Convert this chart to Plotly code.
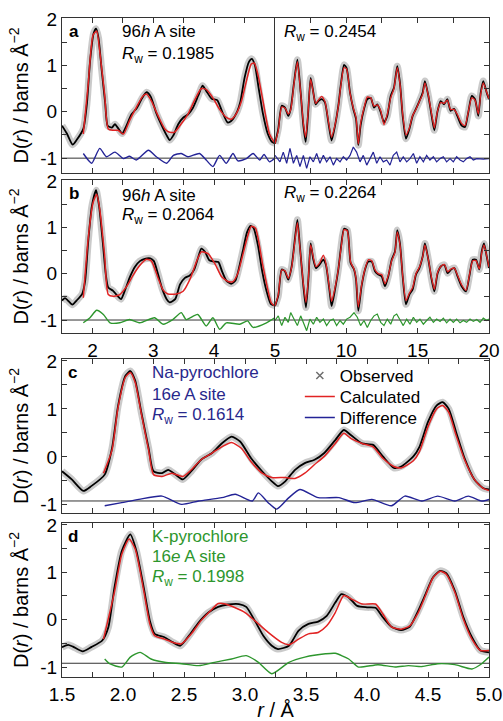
import plotly.graph_objects as go

# ---------------- data ----------------
# Observed D(r), Na sample, 1.5-5 A (panels a-left and c)
r_obs_na = [1.50,1.58,1.675,1.74,1.85,1.91,1.96,2.02,2.06,2.10,2.15,2.21,2.25,2.32,2.37,2.43,2.49,2.56,2.64,2.73,
            2.81,2.89,2.96,3.05,3.14,3.22,3.27,3.33,3.41,3.49,3.57,3.65,3.74,3.81,3.87,3.96,4.05,4.13,4.22,4.28,
            4.38,4.43,4.50,4.57,4.62,4.67,4.73,4.80,4.88,4.95,5.00]
obs_na = [-0.30,-0.47,-0.71,-0.61,-0.37,0.18,1.07,1.69,1.79,1.59,0.93,0.18,-0.30,-0.34,-0.27,-0.37,-0.47,-0.30,-0.06,0.08,
          0.28,0.42,0.32,-0.03,-0.30,-0.51,-0.61,-0.51,-0.27,-0.13,-0.06,0.08,0.35,0.56,0.45,0.28,0.25,0.01,-0.23,-0.20,
          0.01,0.21,0.73,1.07,1.14,1.00,0.52,-0.03,-0.47,-0.65,-0.68]

# Observed D(r), K sample, 1.5-5 A (panels b-left and d)
r_obs_k = [1.50,1.55,1.59,1.67,1.74,1.83,1.88,1.93,1.99,2.06,2.11,2.17,2.22,2.26,2.34,2.41,2.47,2.54,2.62,2.70,
           2.78,2.86,2.95,3.01,3.08,3.15,3.22,3.27,3.36,3.44,3.52,3.60,3.67,3.74,3.79,3.85,3.92,4.00,4.07,4.13,
           4.20,4.28,4.35,4.42,4.48,4.54,4.60,4.65,4.72,4.79,4.86,4.93,5.00]
obs_k = [-0.58,-0.53,-0.57,-0.67,-0.58,-0.44,-0.16,0.68,1.45,1.80,1.45,0.68,-0.02,-0.30,-0.37,-0.48,-0.55,-0.34,-0.06,0.15,
         0.27,0.32,0.33,0.27,-0.02,-0.34,-0.55,-0.62,-0.55,-0.23,-0.09,-0.04,0.08,0.36,0.54,0.47,0.29,0.26,0.25,0.05,
         -0.15,-0.22,-0.15,0.19,0.54,0.89,1.03,0.98,0.61,0.05,-0.37,-0.65,-0.69]

# Panel a, 96h model (Na), 1.5-5 A
r_calc_na96 = [1.85,1.93,2.01,2.07,2.12,2.20,2.26,2.34,2.42,2.51,2.61,2.72,2.83,2.89,2.97,3.08,3.19,3.27,3.35,3.46,
               3.57,3.68,3.79,3.87,3.98,4.09,4.20,4.28,4.36,4.45,4.53,4.61,4.66,4.72,4.80,4.91,5.00]
calc_na96 = [-0.48,0.59,1.65,1.74,1.30,0.38,-0.37,-0.40,-0.40,-0.48,-0.19,0.09,0.34,0.38,0.23,-0.09,-0.37,-0.44,-0.44,-0.26,
             -0.05,0.25,0.50,0.48,0.30,0.05,-0.12,-0.16,-0.05,0.23,0.66,1.03,1.05,0.80,0.25,-0.48,-0.68]
r_diff_na96 = [1.85,1.93,1.99,2.12,2.23,2.37,2.51,2.61,2.72,2.92,3.05,3.22,3.33,3.46,3.57,3.76,3.87,3.98,4.09,4.20,
               4.31,4.39,4.53,4.64,4.75,4.82,4.91,5.00]
diff_na96 = [-0.90,-1.04,-1.11,-0.79,-0.97,-0.87,-1.01,-0.96,-1.04,-0.83,-0.97,-1.11,-0.94,-0.90,-0.97,-0.90,-1.04,-1.18,-0.94,-1.11,
             -0.90,-1.06,-1.01,-0.90,-1.04,-0.92,-1.08,-1.00]

# Panel a, 5-20 A
r_long_na = [5.00,5.23,5.47,5.70,5.93,6.10,6.33,6.57,6.80,6.99,7.15,7.31,7.50,7.69,7.85,8.04,8.27,8.50,8.74,8.97,
             9.21,9.44,9.63,9.84,10.02,10.26,10.49,10.68,10.84,11.00,11.24,11.47,11.71,11.94,12.17,12.41,12.64,12.87,13.11,13.34,
             13.57,13.76,13.95,14.18,14.42,14.65,14.88,15.12,15.35,15.51,15.75,15.98,16.17,16.38,16.61,16.85,17.08,17.31,17.55,17.78,
             18.08,18.32,18.55,18.79,19.02,19.25,19.42,19.60,19.84,20.00]
obs_na_long = [-0.69,-0.37,0.13,0.09,-0.09,0.06,0.62,1.12,0.41,-0.30,
               -0.65,-0.09,0.73,0.41,0.16,0.23,0.27,0.20,-0.23,-0.62,
               -0.30,0.13,0.62,1.01,0.94,0.41,0.06,-0.16,-0.72,-0.30,
               0.06,0.27,0.30,0.09,0.16,-0.01,-0.23,-0.09,0.34,0.52,
               0.98,0.62,-0.09,-0.58,-0.37,-0.09,0.06,0.23,0.41,0.66,
               0.34,-0.09,-0.40,-0.01,0.23,0.16,0.27,0.02,0.06,-0.09,
               -0.30,-0.33,-0.01,0.34,0.27,-0.09,0.41,0.66,0.41,0.27]
calc_na96_long = [-0.69,-0.40,0.10,0.08,-0.05,0.04,0.60,1.08,0.40,-0.25,
                  -0.55,-0.05,0.70,0.40,0.18,0.25,0.33,0.22,-0.20,-0.55,
                  -0.28,0.12,0.60,0.95,0.92,0.40,0.08,-0.12,-0.70,-0.25,
                  0.08,0.32,0.30,0.12,0.15,0.02,-0.28,-0.05,0.30,0.50,
                  0.95,0.60,-0.05,-0.50,-0.35,-0.08,0.05,0.22,0.38,0.62,
                  0.35,-0.05,-0.35,0.00,0.20,0.18,0.25,0.05,0.05,-0.06,
                  -0.25,-0.30,0.00,0.30,0.25,-0.05,0.38,0.62,0.42,0.28]
r_diff_na96_long = [5.00,5.35,5.58,5.82,6.05,6.29,6.52,6.75,6.99,7.22,7.45,7.69,7.92,8.15,8.39,8.62,8.86,9.09,9.32,9.56,
                    9.79,10.02,10.26,10.49,10.72,10.96,11.19,11.43,11.66,11.89,12.13,12.36,12.59,12.83,13.06,13.29,13.53,13.76,13.99,14.23,
                    14.46,14.70,14.93,15.16,15.40,15.63,15.86,16.10,16.33,16.57,16.80,17.03,17.27,17.50,17.73,17.97,18.20,18.43,18.67,18.90,
                    19.14,19.60,20.00]
diff_na96_long = [-0.94,-1.08,-0.87,-1.11,-0.79,-1.11,-0.94,-1.18,-0.94,-1.22,
                  -0.97,-1.08,-0.90,-1.11,-0.94,-1.08,-0.97,-1.15,-1.01,-1.08,
                  -0.97,-1.04,-0.94,-0.76,-0.87,-1.08,-0.94,-1.15,-1.01,-0.87,
                  -1.11,-0.97,-1.08,-1.04,-1.15,-0.94,-0.87,-1.08,-0.97,-1.08,
                  -1.01,-0.90,-1.11,-0.97,-1.08,-0.94,-1.04,-0.97,-1.08,-1.01,
                  -0.97,-1.08,-1.01,-1.08,-0.97,-1.04,-1.08,-1.01,-0.97,-1.04,
                  -1.01,-1.02,-1.01]

# Panel b, 96h model (K), 1.5-5 A
r_calc_k96 = [1.85,1.93,2.01,2.07,2.12,2.20,2.26,2.34,2.45,2.56,2.67,2.78,2.89,2.97,3.08,3.16,3.24,3.38,3.49,3.60,
              3.71,3.79,3.90,4.01,4.12,4.23,4.31,4.39,4.47,4.55,4.61,4.68,4.80,4.94,5.00]
calc_k96 = [-0.52,0.75,1.53,1.71,1.39,0.40,-0.45,-0.49,-0.45,-0.28,-0.03,0.18,0.31,0.27,-0.10,-0.35,-0.44,-0.44,-0.38,-0.13,
            0.26,0.47,0.43,0.22,-0.06,-0.17,-0.17,0.01,0.40,0.80,1.02,0.98,0.18,-0.63,-0.70]
r_diff_k96 = [1.85,1.96,2.07,2.18,2.29,2.45,2.61,2.78,3.02,3.16,3.32,3.46,3.54,3.73,3.87,3.98,4.09,4.20,4.42,4.55,
              4.64,4.86,5.00]
diff_k96 = [-1.06,-0.95,-0.79,-0.88,-1.06,-1.06,-0.99,-1.06,-0.95,-1.09,-0.99,-0.84,-0.99,-0.88,-1.13,-0.95,-1.20,-1.06,-1.09,-1.02,
            -1.16,-1.06,-0.95]

# Panel b, 5-20 A
r_long_k = [5.00,5.23,5.47,5.70,5.93,6.17,6.40,6.57,6.75,6.99,7.17,7.34,7.50,7.69,7.87,8.11,8.39,8.57,8.81,8.97,
            9.21,9.44,9.63,9.84,10.07,10.30,10.54,10.68,10.84,11.07,11.31,11.54,11.78,12.01,12.24,12.48,12.71,12.94,13.18,13.41,
            13.57,13.76,13.95,14.18,14.42,14.65,14.88,15.12,15.35,15.51,15.75,15.98,16.17,16.40,16.64,16.87,17.10,17.34,17.57,17.80,
            18.08,18.39,18.62,18.86,19.09,19.32,19.49,19.65,19.84,20.00]
obs_k_long = [-0.70,-0.48,0.09,0.05,-0.13,0.16,0.76,1.16,0.58,-0.27,
              -0.73,-0.13,0.65,0.30,0.12,0.19,0.30,0.19,-0.34,-0.70,
              -0.34,0.09,0.58,0.97,0.94,0.23,0.09,-0.13,-0.80,-0.27,
              0.09,0.26,0.26,0.05,-0.02,-0.06,-0.27,-0.06,0.30,0.48,
              0.94,0.65,-0.06,-0.66,-0.45,-0.34,-0.02,0.12,0.37,0.65,
              0.30,-0.13,-0.38,0.01,0.16,0.19,0.01,0.09,0.12,-0.06,
              -0.27,-0.38,-0.06,0.30,0.30,0.09,0.48,0.65,0.37,0.12]
calc_k96_long = [-0.70,-0.45,0.08,0.06,-0.10,0.14,0.72,1.10,0.55,-0.22,
                 -0.62,-0.10,0.62,0.35,0.15,0.22,0.40,0.22,-0.30,-0.60,
                 -0.30,0.10,0.55,0.95,0.92,0.25,0.10,-0.10,-0.72,-0.25,
                 0.10,0.30,0.28,0.08,0.00,-0.02,-0.22,-0.04,0.28,0.46,
                 0.90,0.62,-0.04,-0.58,-0.42,-0.30,0.00,0.14,0.36,0.62,
                 0.30,-0.10,-0.34,0.03,0.16,0.20,0.04,0.10,0.12,-0.04,
                 -0.24,-0.36,-0.04,0.28,0.28,0.10,0.45,0.62,0.38,0.14]
r_diff_k96_long = [5.00,5.23,5.47,5.70,5.93,6.10,6.33,6.57,6.80,6.99,7.22,7.45,7.69,7.92,8.15,8.39,8.62,8.86,9.09,9.32,
                   9.56,9.79,10.02,10.26,10.54,10.77,11.00,11.24,11.47,11.71,11.94,12.17,12.41,12.64,12.87,13.11,13.34,13.53,13.76,13.99,
                   14.23,14.46,14.70,14.93,15.16,15.40,15.63,15.86,16.10,16.33,16.57,16.80,17.03,17.27,17.50,17.73,17.97,18.20,18.43,18.67,
                   18.90,19.14,19.37,19.60,19.84,20.00]
diff_k96_long = [-1.01,-0.91,-1.12,-0.94,-1.05,-0.84,-0.98,-1.12,-0.91,-1.05,
                 -1.23,-0.98,-1.09,-0.94,-1.05,-0.98,-1.12,-1.01,-0.98,-1.12,
                 -1.01,-1.09,-0.98,-0.94,-0.84,-0.94,-1.12,-1.01,-1.16,-1.01,
                 -0.91,-0.87,-1.05,-1.12,-0.98,-1.09,-0.91,-0.87,-1.01,-1.12,
                 -0.98,-1.09,-0.94,-1.05,-0.98,-1.09,-1.01,-0.94,-1.05,-0.98,
                 -1.03,-0.96,-1.06,-0.98,-1.05,-0.98,-1.06,-1.01,-1.05,-0.98,
                 -1.03,-0.99,-1.05,-0.96,-1.01,-0.98]

# Panel c, 16e model (Na)
r_calc_na16 = [1.84,1.91,1.96,2.02,2.06,2.10,2.15,2.21,2.25,2.32,2.40,2.49,2.56,2.64,2.73,2.81,2.89,2.97,3.05,3.14,
               3.22,3.33,3.41,3.49,3.57,3.65,3.74,3.81,3.87,3.96,4.05,4.13,4.22,4.28,4.38,4.43,4.50,4.57,4.62,4.67,
               4.73,4.80,4.88,4.95,5.00]
calc_na16 = [-0.34,0.14,1.04,1.66,1.76,1.55,0.90,0.14,-0.37,-0.41,-0.34,-0.41,-0.27,-0.06,0.08,0.21,0.30,0.18,-0.10,-0.34,
             -0.43,-0.43,-0.45,-0.34,-0.16,0.01,0.28,0.49,0.38,0.28,0.21,-0.03,-0.20,-0.23,-0.08,0.11,0.63,1.00,1.07,0.93,
             0.45,-0.06,-0.47,-0.65,-0.70]
r_diff_na16 = [1.85,1.99,2.13,2.32,2.48,2.62,2.81,2.92,3.06,3.11,3.19,3.26,3.36,3.45,3.60,3.77,3.90,4.04,4.20,4.31,
               4.45,4.58,4.72,4.83,4.94,5.00]
diff_na16 = [-1.02,-0.955,-0.887,-0.818,-0.99,-0.92,-0.85,-0.78,-0.92,-0.75,-0.955,-1.09,-0.85,-0.68,-0.85,-0.85,-0.955,-0.887,-1.02,-0.818,
             -0.92,-0.818,-0.92,-0.818,-0.92,-0.887]

# Panel d, 16e model (K)
r_calc_k16 = [1.84,1.93,1.99,2.05,2.10,2.17,2.22,2.26,2.34,2.41,2.48,2.56,2.64,2.73,2.78,2.84,2.92,3.00,3.08,3.19,
              3.30,3.36,3.44,3.52,3.60,3.67,3.74,3.81,3.87,3.96,4.07,4.13,4.20,4.28,4.35,4.42,4.48,4.54,4.60,4.65,
              4.72,4.79,4.86,4.93,5.00]
calc_k16 = [-0.41,0.58,1.38,1.70,1.49,0.61,-0.09,-0.34,-0.41,-0.48,-0.51,-0.30,-0.02,0.22,0.34,0.33,0.25,0.15,-0.02,-0.27,
            -0.48,-0.53,-0.41,-0.30,-0.27,-0.13,0.15,0.51,0.44,0.33,0.33,0.12,-0.15,-0.20,-0.13,0.15,0.51,0.88,1.02,0.96,
            0.58,0.01,-0.41,-0.65,-0.65]
r_diff_k16 = [1.85,1.89,1.99,2.06,2.14,2.23,2.34,2.48,2.62,2.75,2.89,3.01,3.11,3.22,3.36,3.49,3.66,3.74,3.85,3.93,
              4.09,4.23,4.34,4.45,4.58,4.72,4.86,4.94,5.00]
diff_k16 = [-0.83,-0.93,-1.00,-0.79,-0.69,-0.83,-0.90,-0.93,-0.97,-0.90,-0.83,-0.76,-0.90,-1.14,-0.90,-0.79,-0.72,-0.71,-0.83,-1.00,
            -0.95,-1.00,-0.97,-0.99,-0.93,-0.95,-1.04,-0.93,-0.79]

# baselines of the difference curves
offset_ab = -1.0
offset_cd = -0.92

# axis tick labels
y_tickvals = [-1, -0.5, 0, 0.5, 1, 1.5, 2]
y_ticktext = ['-1', '', '0', '', '1', '', '2']
xl_tickvals = [1.5, 2, 2.5, 3, 3.5, 4, 4.5, 5]
xl_ticktext = ['', '2', '', '3', '', '4', '', '']
xr_tickvals = [5, 7.5, 10, 12.5, 15, 17.5, 20]
xr_ticktext = ['5', '', '10', '', '15', '', '20']
xcd_tickvals = [1.5, 1.75, 2.0, 2.25, 2.5, 2.75, 3.0, 3.25, 3.5, 3.75, 4.0, 4.25, 4.5, 4.75, 5.0]
xcd_ticktext = ['1.5', '', '2.0', '', '2.5', '', '3.0', '', '3.5', '', '4.0', '', '4.5', '', '5.0']

# ---------------- styling ----------------
FONT = 'Liberation Sans, Arial, sans-serif'
HALO = 'rgba(150,150,150,0.5)'
RED = 'rgb(225,35,35)'
BLUE = 'rgb(35,35,150)'
GREEN = 'rgb(45,150,45)'
NAVY = 'rgb(40,40,140)'
AX = '#333333'
YTITLE = 'D(<i>r</i>) / barns Å<sup>−2</sup>'

fig = go.Figure()


def add_obs(x, y, xa, ya):
    fig.add_trace(go.Scatter(x=x, y=y, xaxis=xa, yaxis=ya, mode='lines',
                             line=dict(color=HALO, width=7, shape='spline', smoothing=0.6),
                             showlegend=False, hoverinfo='skip'))
    fig.add_trace(go.Scatter(x=x, y=y, xaxis=xa, yaxis=ya, mode='lines',
                             line=dict(color='black', width=1.8, shape='spline', smoothing=0.6),
                             showlegend=False))


def add_line(x, y, xa, ya, color, width=1.5, shape='spline', name=None, legend=None):
    fig.add_trace(go.Scatter(x=x, y=y, xaxis=xa, yaxis=ya, mode='lines', name=name,
                             line=dict(color=color, width=width, shape=shape, smoothing=0.6),
                             showlegend=legend is not None, legend=legend or 'legend'))


# legend-only observed marker
fig.add_trace(go.Scatter(x=[None], y=[None], xaxis='x5', yaxis='y5', mode='markers', name='Observed',
                         marker=dict(symbol='x-thin', size=7, line=dict(color='rgb(110,110,110)', width=1.5)),
                         showlegend=True, legend='legend'))

# panel a
add_obs(r_obs_na, obs_na, 'x', 'y')
add_line(r_calc_na96, calc_na96, 'x', 'y', RED)
add_line(r_diff_na96, diff_na96, 'x', 'y', BLUE, 1.4)
add_obs(r_long_na, obs_na_long, 'x2', 'y2')
add_line(r_long_na, calc_na96_long, 'x2', 'y2', RED, 1.3)
add_line(r_diff_na96_long, diff_na96_long, 'x2', 'y2', BLUE, 1.2, 'linear')
# panel b
add_obs(r_obs_k, obs_k, 'x3', 'y3')
add_line(r_calc_k96, calc_k96, 'x3', 'y3', RED)
add_line(r_diff_k96, diff_k96, 'x3', 'y3', GREEN, 1.4)
add_obs(r_long_k, obs_k_long, 'x4', 'y4')
add_line(r_long_k, calc_k96_long, 'x4', 'y4', RED, 1.3)
add_line(r_diff_k96_long, diff_k96_long, 'x4', 'y4', GREEN, 1.2, 'linear')
# panel c
add_obs(r_obs_na, obs_na, 'x5', 'y5')
add_line(r_calc_na16, calc_na16, 'x5', 'y5', RED, 1.5, name='Calculated', legend='legend2')
add_line(r_diff_na16, diff_na16, 'x5', 'y5', BLUE, 1.4, name='Difference', legend='legend3')
# panel d
add_obs(r_obs_k, obs_k, 'x6', 'y6')
add_line(r_calc_k16, calc_k16, 'x6', 'y6', RED)
add_line(r_diff_k16, diff_k16, 'x6', 'y6', GREEN, 1.4)

# baselines
for xr, yr, off in [('x', 'y', offset_ab), ('x2', 'y2', offset_ab), ('x3', 'y3', offset_ab),
                    ('x4', 'y4', offset_ab), ('x5', 'y5', offset_cd), ('x6', 'y6', offset_cd)]:
    fig.add_shape(type='line', xref=xr + ' domain', x0=0, x1=1, yref=yr, y0=off, y1=off,
                  line=dict(color=AX, width=1), layer='below')

tickfont = dict(family=FONT, size=19, color='black')


def xax(domain, rng, tv, tt, anchor, labels):
    return dict(domain=domain, range=rng, anchor=anchor, showline=True, linecolor=AX, linewidth=1,
                mirror='ticks', ticks='inside', ticklen=5, tickwidth=1, tickcolor=AX,
                tickmode='array', tickvals=tv, ticktext=tt, showticklabels=labels,
                showgrid=False, zeroline=False, tickfont=tickfont, automargin=False)


def yax(domain, rng, anchor, labels, side='left', mirror='ticks', title=None):
    d = dict(domain=domain, range=rng, anchor=anchor, side=side, showline=True, linecolor=AX, linewidth=1,
             mirror=mirror, ticks='inside', ticklen=5, tickwidth=1, tickcolor=AX,
             tickmode='array', tickvals=y_tickvals, ticktext=y_ticktext, showticklabels=labels,
             showgrid=False, zeroline=False, tickfont=tickfont, automargin=False)
    if title:
        d['title'] = dict(text=title, font=dict(family=FONT, size=20, color='black'), standoff=6)
    return d


SPLIT = 0.4988
dom_a = [0.7648, 1.0]
dom_b = [0.5220, 0.7542]
dom_c = [0.2489, 0.4825]
dom_d = [0.0, 0.2337]

legfont = dict(family=FONT, size=17, color='black')
leg = dict(x=0.557, xanchor='left', yanchor='middle', bgcolor='rgba(0,0,0,0)', font=legfont,
           itemwidth=30, tracegroupgap=0)

fig.update_layout(
    width=503, height=721,
    margin=dict(l=62, r=14, t=18, b=44),
    paper_bgcolor='white', plot_bgcolor='white',
    font=dict(family=FONT, size=17, color='black'),
    xaxis=xax([0, SPLIT], [1.5, 5], xl_tickvals, xl_ticktext, 'y', False),
    xaxis2=xax([SPLIT, 1], [5, 20], xr_tickvals, xr_ticktext, 'y2', False),
    xaxis3=xax([0, SPLIT], [1.5, 5], xl_tickvals, xl_ticktext, 'y3', True),
    xaxis4=xax([SPLIT, 1], [5, 20], xr_tickvals, xr_ticktext, 'y4', True),
    xaxis5=xax([0, 1], [1.5, 5], xcd_tickvals, ['']*15, 'y5', False),
    xaxis6=xax([0, 1], [1.5, 5], xcd_tickvals, xcd_ticktext, 'y6', True),
    yaxis=yax(dom_a, [-1.32, 2.02], 'x', True, mirror=False, title=YTITLE),
    yaxis2=yax(dom_a, [-1.32, 2.02], 'x2', False, side='right', mirror=True),
    yaxis3=yax(dom_b, [-1.28, 2.02], 'x3', True, mirror=False, title=YTITLE),
    yaxis4=yax(dom_b, [-1.28, 2.02], 'x4', False, side='right', mirror=True),
    yaxis5=yax(dom_c, [-1.17, 2.04], 'x5', True, title=YTITLE),
    yaxis6=yax(dom_d, [-1.21, 2.04], 'x6', True, title=YTITLE),
    legend=dict(leg, y=0.4568),
    legend2=dict(leg, y=0.4249),
    legend3=dict(leg, y=0.3930),
    showlegend=True,
)
fig.layout.xaxis6.title = dict(text='<i>r</i> / Å', font=dict(family=FONT, size=20, color='black'), standoff=4)


def ann(text, xref, yref, x, y, color='black', bold=False, size=17):
    fig.add_annotation(text=('<b>%s</b>' % text) if bold else text, xref=xref, yref=yref, x=x, y=y,
                       xanchor='left', yanchor='middle', showarrow=False,
                       font=dict(family=FONT, size=size, color=color))


# panel a
ann('a', 'x domain', 'y domain', 0.023, 0.91, bold=True)
ann('96<i>h</i> A site', 'x domain', 'y domain', 0.272, 0.91)
ann('<i>R</i><sub>w</sub> = 0.1985', 'x domain', 'y domain', 0.272, 0.76)
ann('<i>R</i><sub>w</sub> = 0.2454', 'x2 domain', 'y2 domain', 0.033, 0.90)
# panel b
ann('b', 'x3 domain', 'y3 domain', 0.023, 0.91, bold=True)
ann('96<i>h</i> A site', 'x3 domain', 'y3 domain', 0.272, 0.90)
ann('<i>R</i><sub>w</sub> = 0.2064', 'x3 domain', 'y3 domain', 0.272, 0.765)
ann('<i>R</i><sub>w</sub> = 0.2264', 'x4 domain', 'y4 domain', 0.033, 0.91)
# panel c
ann('c', 'x5 domain', 'y5 domain', 0.009, 0.91, bold=True)
ann('Na-pyrochlore', 'x5 domain', 'y5 domain', 0.206, 0.91, color=NAVY)
ann('16<i>e</i> A site', 'x5 domain', 'y5 domain', 0.206, 0.77, color=NAVY)
ann('<i>R</i><sub>w</sub> = 0.1614', 'x5 domain', 'y5 domain', 0.206, 0.63, color=NAVY)
# panel d
ann('d', 'x6 domain', 'y6 domain', 0.009, 0.91, bold=True)
ann('K-pyrochlore', 'x6 domain', 'y6 domain', 0.206, 0.91, color=GREEN)
ann('16<i>e</i> A site', 'x6 domain', 'y6 domain', 0.206, 0.78, color=GREEN)
ann('<i>R</i><sub>w</sub> = 0.1998', 'x6 domain', 'y6 domain', 0.206, 0.645, color=GREEN)

fig.write_html('out.html')
